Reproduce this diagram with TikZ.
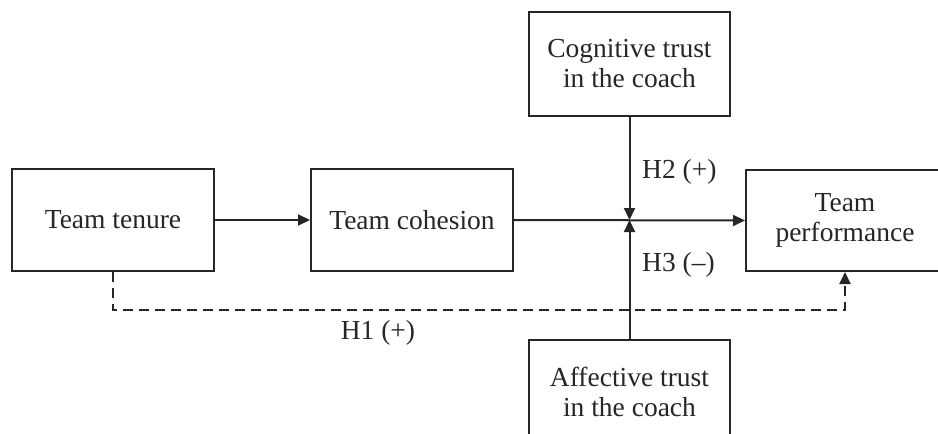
\documentclass[tikz,border=0pt]{standalone}
\usepackage{fontspec}
\setmainfont{Liberation Serif}
\usetikzlibrary{arrows.meta}
\definecolor{ink}{HTML}{262626}
\begin{document}
\begin{tikzpicture}[x=1pt,y=-1pt,
  box/.style={draw=ink,line width=2pt,fill=white,align=center,text=ink,font=\fontsize{27.5}{30}\selectfont,inner sep=0pt},
  lbl/.style={text=ink,font=\fontsize{27.5}{30}\selectfont,inner sep=0pt},
  conn/.style={draw=ink,line width=2pt},
  tip/.style={-{Triangle[length=12pt,width=11pt]}}]
\useasboundingbox (0,0) rectangle (938,434);
\clip (0,0) rectangle (938,434);
\node[box,minimum width=202pt,minimum height=102pt] (tenure) at (113,220) {Team tenure};
\node[box,minimum width=202pt,minimum height=102pt] (cohesion) at (412,220) {Team cohesion};
\node[box,minimum width=201pt,minimum height=104pt] (cog) at (629.5,64) {Cognitive trust\\in the coach};
\node[box,minimum width=198pt,minimum height=101pt] (perf) at (845,220.5) {Team\\performance};
\node[box,minimum width=201pt,minimum height=104pt] (aff) at (629.5,392) {Affective trust\\in the coach};
\coordinate (j) at (aff.north |- cohesion.east);
\coordinate (d) at ([yshift=-38pt]tenure.south);
\draw[conn,tip] (tenure.east) -- (cohesion.west);
\draw[conn,tip] (cohesion.east) -- (perf.west);
\draw[conn,tip] (cog.south) -- (j);
\draw[conn,tip] (aff.north) -- (j);
\draw[conn,tip,dash pattern=on 10pt off 6pt] (tenure.south) -- (d) -| (perf.south);
\node[lbl,anchor=west] (h2) at (642,172) {H2 (+)};
\node[lbl,anchor=west] (h3) at (642,265) {H3 (–)};
\node[lbl] (h1) at (378,333) {H1 (+)};
\end{tikzpicture}
\end{document}
